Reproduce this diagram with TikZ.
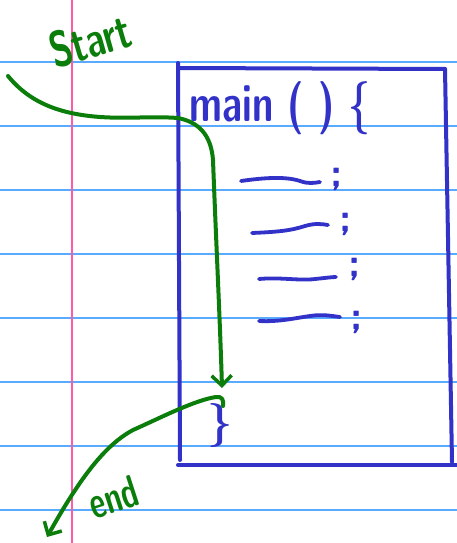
\documentclass[tikz,border=0pt]{standalone}
\usetikzlibrary{arrows.meta}
\usepackage{graphicx}
\definecolor{rulecol}{RGB}{90,170,255}
\definecolor{margincol}{RGB}{255,90,170}
\definecolor{ink}{RGB}{50,50,200}
\definecolor{pen}{RGB}{10,125,10}
\begin{document}
\begin{tikzpicture}[x=1pt,y=-1pt,
  ruleline/.style={rulecol,line width=1.3pt},
  boxline/.style={ink,line width=4pt,line cap=round},
  flow/.style={pen,line width=4pt,line cap=round,line join=round,
    -{Straight Barb[length=10pt,width=20pt,line width=3.5pt]}},
  hand/.style={ink,line width=3.8pt,line cap=round,line join=round},
  inktext/.style={ink,inner sep=0pt,font=\sffamily\bfseries},
  pentext/.style={pen,inner sep=0pt,font=\sffamily\bfseries}]
\useasboundingbox (0,0) rectangle (457,543);
\fill[white] (0,0) rectangle (457,543);
% ruled paper
\foreach \yy in {62,126,190,254,318,382,446,510}
  \draw[ruleline] (0,\yy) -- (457,\yy);
\draw[margincol,line width=1.5pt] (72,0) -- (72,543);
% the box
\draw[boxline] (178,63) -- (180,460);
\draw[boxline] (179,68) -- (445,69);
\draw[boxline] (445,69) -- (452,462);
\draw[boxline] (178,465) -- (457,465);
% texts
\node[inktext] (main) at (280,108) {\scalebox{1}[1.4]{\fontsize{38}{42}\selectfont main ( ) \{}};
\node[pentext,rotate=16] (start) at (90,40) {\scalebox{1}[1.4]{\fontsize{36}{40}\selectfont Start}};
\node[pentext,rotate=18] (end) at (113,497) {\scalebox{1}[1.5]{\fontsize{30}{36}\selectfont end}};
\node[inktext] (close) at (220,425) {\fontsize{44}{48}\selectfont \}};
% statements
\draw[hand] (241,181) .. controls (262,178) and (285,176) .. (300,181) .. controls (308,184) and (314,183) .. (320,182);
\node[inktext] (s1) at (337,179) {\fontsize{40}{44}\selectfont ;};
\draw[hand] (252,233) .. controls (275,232) and (290,231) .. (305,226) .. controls (315,223) and (322,224) .. (328,225);
\node[inktext] (s2) at (346,224) {\fontsize{40}{44}\selectfont ;};
\draw[hand] (259,279) .. controls (280,277) and (300,281) .. (315,279) .. controls (325,278) and (332,277) .. (336,277);
\node[inktext] (s3) at (355,269) {\fontsize{40}{44}\selectfont ;};
\draw[hand] (259,321) .. controls (280,322) and (295,318) .. (310,316) .. controls (322,314) and (332,316) .. (340,317);
\node[inktext] (s4) at (357,322) {\fontsize{40}{44}\selectfont ;};
% flow of control
\coordinate (in) at (8,76);
\coordinate (bodyend) at (222,388);
\coordinate (exit) at (223,406);
\coordinate (out) at (47,537);
\draw[flow] (in) .. controls (30,103) and (60,114) .. (100,117)
  .. controls (130,119) and (150,116) .. (178,118)
  .. controls (198,122) and (211,134) .. (213,160)
  .. controls (216,240) and (220,320) .. (bodyend);
\draw[flow] (exit) .. controls (224,400) and (222,396) .. (216,397)
  .. controls (195,400) and (160,418) .. (133,430)
  .. controls (105,445) and (80,478) .. (out);
\end{tikzpicture}
\end{document}
